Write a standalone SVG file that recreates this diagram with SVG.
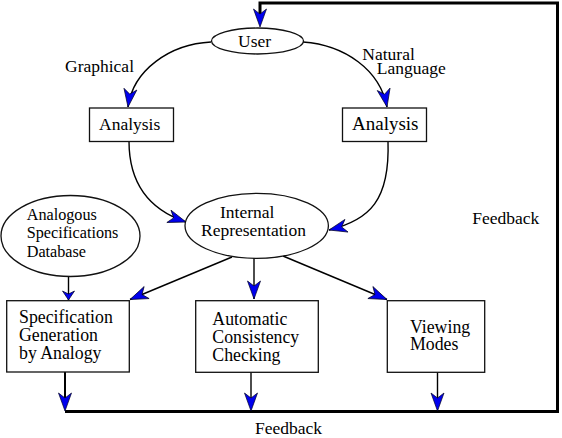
<svg xmlns="http://www.w3.org/2000/svg" width="562" height="438" viewBox="0 0 562 438">
<style>
.t{font-size:17.5px}
.s{font-size:16.2px}
.b{font-size:17.8px}
.nd{fill:#fff;stroke:#111;stroke-width:1.3}
.c{fill:none;stroke:#000;stroke-width:1.4}
.k{fill:none;stroke:#000;stroke-width:3}
.m{fill:none;stroke:#000;stroke-width:2}
.ah{fill:#0000ee;stroke:#000022;stroke-width:0.7;stroke-linejoin:miter}
</style>
<defs>
<marker id="tip" markerUnits="userSpaceOnUse" orient="auto" refX="0" refY="0" markerWidth="20" markerHeight="14" overflow="visible"><path class="ah" d="M0 0 L-18 -6.5 L-13 0 L-18 6.5 Z"/></marker>
<marker id="notch" markerUnits="userSpaceOnUse" orient="auto" refX="0" refY="0" markerWidth="20" markerHeight="14" overflow="visible"><path class="ah" d="M13 0 L-5 -6.5 L0 0 L-5 6.5 Z"/></marker>
<marker id="small" markerUnits="userSpaceOnUse" orient="auto" refX="0" refY="0" markerWidth="12" markerHeight="14" overflow="visible"><path class="ah" d="M0 0 L-9 -6 L-6 0 L-9 6 Z"/></marker>
</defs>
<g id="connectors">
<path class="k" d="M65 411.5 H557.5 V3 H260 V14" marker-end="url(#notch)"/>
<path class="c" d="M211 42 C170 44 133 70 128 107" marker-end="url(#tip)"/>
<path class="c" d="M303 42 C345 45 380 70 387 107" marker-end="url(#tip)"/>
<path class="c" d="M129 141 C129 185 150 210 186 222" marker-end="url(#tip)"/>
<path class="c" d="M388 141 C390 200 370 220 329 230" marker-end="url(#tip)"/>
<path class="c" d="M68.5 276.5 V300" marker-end="url(#small)"/>
<path class="c" d="M232 257 L130 299.5" marker-end="url(#tip)"/>
<path class="c" d="M254 258 V299" marker-end="url(#tip)"/>
<path class="c" d="M283 256 L387 299.5" marker-end="url(#tip)"/>
<path class="m" d="M65 372 V398" marker-end="url(#notch)"/>
<path class="c" d="M251 372 V398" marker-end="url(#notch)"/>
<path class="c" d="M437.5 372 V398" marker-end="url(#notch)"/>
</g>
<g font-family="'Liberation Serif', 'Times New Roman', Times, 'DejaVu Serif', serif" fill="#000">
<g id="user"><ellipse class="nd" cx="257.5" cy="41" rx="46" ry="13"/><text class="t" x="238" y="47">User</text></g>
<g id="analysis-graphical"><rect class="nd" x="89.5" y="108" width="84" height="33.5"/><text class="t" x="99" y="130">Analysis</text></g>
<g id="analysis-natural"><rect class="nd" x="342.5" y="108" width="84" height="33.5"/><text x="352" y="129.5" font-size="19">Analysis</text></g>
<g id="internal-representation"><ellipse class="nd" cx="256.7" cy="225.8" rx="71.7" ry="32.5"/><text class="t" x="220" y="218.3">Internal</text><text class="t" x="201" y="236">Representation</text></g>
<g id="analogous-db"><ellipse class="nd" cx="70.5" cy="236" rx="69.5" ry="40.5"/><text class="s" x="26.7" y="220">Analogous</text><text class="s" x="26.7" y="238.3">Specifications</text><text class="s" x="26.7" y="256.7">Database</text></g>
<g id="spec-gen"><rect class="nd" x="6.7" y="300.7" width="122.6" height="71.3"/><text class="b" x="19" y="322.7">Specification</text><text class="b" x="19" y="341">Generation</text><text class="b" x="19" y="359">by Analogy</text></g>
<g id="consistency"><rect class="nd" x="195.7" y="300.7" width="122.6" height="71.6"/><text class="b" x="212.3" y="325">Automatic</text><text class="b" x="212.3" y="343.3">Consistency</text><text class="b" x="212.3" y="361">Checking</text></g>
<g id="viewing"><rect class="nd" x="387.3" y="300.7" width="97.4" height="71.6"/><text class="b" x="410" y="333.3">Viewing</text><text class="b" x="410" y="350">Modes</text></g>
<g id="labels">
<text class="t" x="65" y="72">Graphical</text>
<text class="t" x="362.3" y="60">Natural</text>
<text class="t" x="376.7" y="74">Language</text>
<text class="t" x="472.3" y="224">Feedback</text>
<text class="t" x="255" y="434">Feedback</text>
</g>
</g>
</svg>
